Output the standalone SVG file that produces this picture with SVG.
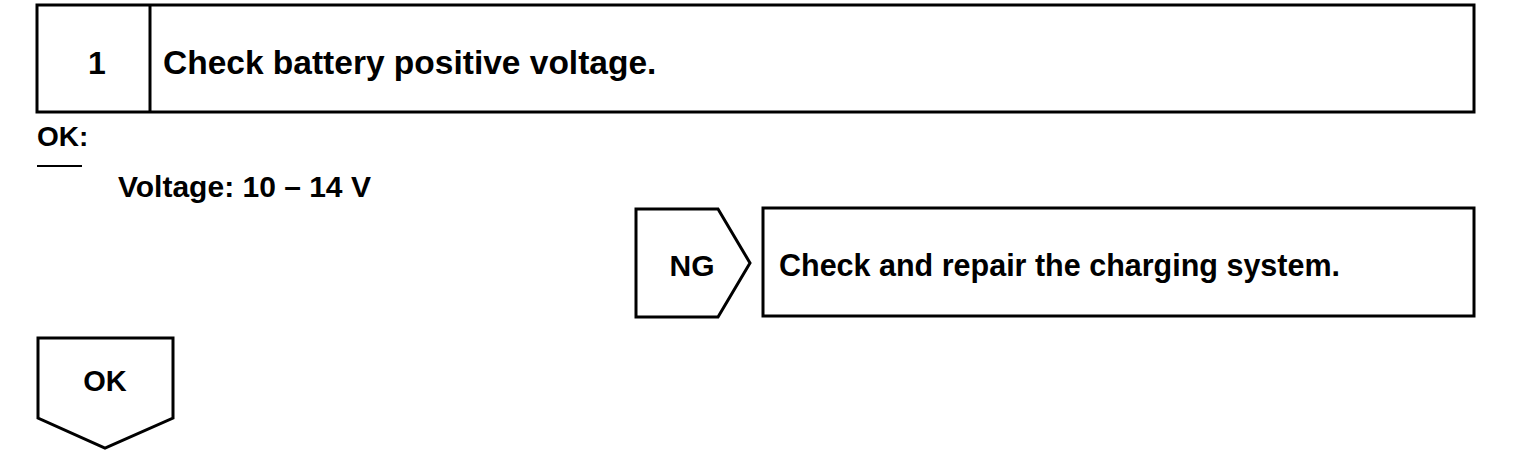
<svg xmlns="http://www.w3.org/2000/svg" width="1536" height="466" viewBox="0 0 1536 466">
<style>
.box{fill:#fff;stroke:#000;stroke-width:3}
.t{font-family:"Liberation Sans",Arial,sans-serif;font-weight:bold;fill:#000}
</style>
<rect width="1536" height="466" fill="#fff"/>
<g id="step1">
<rect class="box" x="37" y="5" width="1437" height="107"/>
<line x1="150" y1="5" x2="150" y2="112" stroke="#000" stroke-width="3"/>
<text class="t" x="97" y="74" font-size="32" text-anchor="middle">1</text>
<text class="t" x="163" y="74" font-size="33.5">Check battery positive voltage.</text>
</g>
<g id="criteria">
<text class="t" x="37" y="146" font-size="28">OK:</text>
<line x1="37" y1="166" x2="82" y2="166" stroke="#000" stroke-width="2"/>
<text class="t" x="118" y="197" font-size="30">Voltage: 10 – 14 V</text>
</g>
<g id="ng">
<polygon class="box" points="636,209 718,209 750,263 718,317 636,317"/>
<text class="t" x="692" y="276" font-size="30" text-anchor="middle">NG</text>
</g>
<g id="repair">
<rect class="box" x="763" y="208" width="711" height="108"/>
<text class="t" x="779" y="276" font-size="30.5">Check and repair the charging system.</text>
</g>
<g id="ok">
<polygon class="box" points="38,338 173,338 173,418 105,448 38,418"/>
<text class="t" x="105" y="391" font-size="29" text-anchor="middle">OK</text>
</g>
<g id="connectors"></g>
</svg>
